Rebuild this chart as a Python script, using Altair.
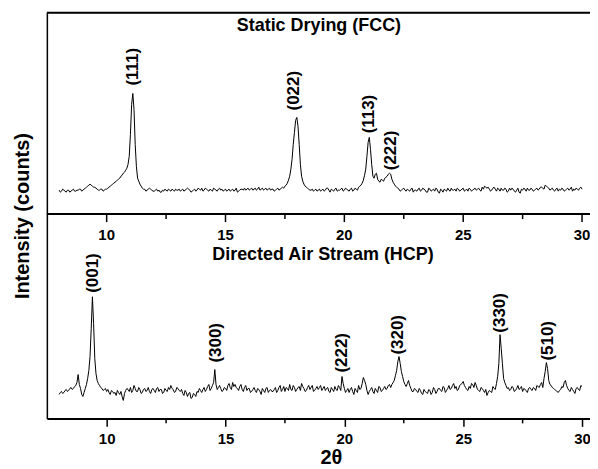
import altair as alt
import pandas as pd

# ---------------- data ----------------
X_START = 8.0
X_STEP = 0.1
MID_START = 8.05   # second set of readings, half-way between the first

# Static Drying (FCC) — intensity above its own baseline axis, 8.0 .. 30.0 step 0.1
TOP_BASE = [
    24, 23, 24, 22, 24, 23, 25, 23, 24, 25,
    24, 26, 28, 30, 28, 27, 25, 24, 25, 24,
    25, 27, 29, 31, 33, 35, 38, 41, 44, 50,
    80, 121, 70, 36, 30, 26, 25, 24, 26, 24,
    23, 25, 24, 22, 23, 24, 25, 23, 24, 25,
    24, 23, 25, 24, 26, 24, 23, 25, 24, 25,
    26, 24, 25, 23, 24, 26, 24, 25, 24, 23,
    25, 24, 23, 25, 24, 22, 24, 25, 26, 25,
    24, 26, 25, 24, 27, 25, 24, 26, 25, 24,
    25, 24, 26, 25, 27, 28, 31, 38, 55, 82,
    97, 70, 38, 30, 27, 25, 24, 23, 25, 24,
    23, 25, 24, 26, 22, 24, 25, 23, 24, 26,
    24, 25, 23, 26, 24, 25, 27, 29, 34, 45,
    72, 65, 38, 40, 35, 32, 34, 36, 38, 41,
    35, 30, 27, 25, 24, 26, 23, 24, 25, 22,
    24, 25, 23, 26, 24, 22, 25, 24, 23, 25,
    21, 24, 25, 23, 24, 26, 24, 23, 25, 24,
    26, 24, 23, 25, 24, 26, 25, 24, 27, 28,
    26, 25, 24, 27, 23, 25, 26, 24, 25, 23,
    24, 25, 22, 26, 21, 24, 25, 26, 24, 25,
    24, 26, 25, 27, 25, 28, 26, 25, 24, 25,
    23, 24, 25, 24, 26, 25, 23, 24, 25, 26,
    25,
]
# 8.05 .. 29.95 step 0.1
TOP_MID = [
    22, 25, 23, 24, 22, 24, 23, 24, 25, 23,
    25, 27, 29, 29, 27, 26, 24, 25, 23, 25,
    26, 28, 30, 32, 34, 36, 39, 42, 46, 58,
    110, 105, 48, 33, 28, 25, 23, 25, 25, 23,
    24, 23, 22, 24, 25, 23, 24, 25, 23, 24,
    25, 24, 23, 25, 25, 22, 24, 23, 26, 24,
    23, 26, 24, 25, 23, 25, 23, 26, 25, 24,
    23, 25, 24, 23, 26, 23, 25, 24, 24, 26,
    25, 24, 26, 25, 24, 26, 25, 24, 26, 25,
    23, 25, 24, 26, 26, 29, 34, 45, 70, 94,
    88, 50, 33, 28, 26, 24, 25, 24, 23, 25,
    24, 23, 26, 24, 25, 23, 26, 24, 25, 23,
    26, 24, 25, 23, 26, 24, 28, 31, 39, 58,
    77, 50, 36, 41, 33, 35, 33, 37, 40, 40,
    32, 28, 26, 23, 25, 24, 25, 23, 26, 24,
    23, 26, 24, 25, 22, 26, 23, 25, 26, 22,
    25, 22, 24, 26, 23, 24, 25, 26, 23, 25,
    23, 25, 26, 23, 25, 24, 26, 23, 25, 27,
    27, 23, 26, 25, 26, 23, 24, 26, 22, 26,
    26, 23, 24, 22, 25, 26, 23, 24, 26, 23,
    25, 24, 27, 26, 29, 27, 24, 26, 23, 26,
    25, 26, 23, 25, 24, 27, 25, 26, 24, 27,
]

# Directed Air Stream (HCP)
BOT_BASE = [
    24, 27, 26, 29, 28, 31, 30, 33, 44, 30,
    22, 30, 40, 62, 122, 60, 38, 33, 30, 29,
    27, 26, 28, 25, 23, 26, 27, 18, 28, 29,
    31, 28, 30, 27, 29, 26, 30, 28, 27, 29,
    28, 30, 27, 29, 26, 28, 31, 33, 29, 27,
    30, 27, 25, 28, 22, 26, 21, 24, 27, 30,
    26, 31, 29, 34, 30, 36, 34, 31, 30, 28,
    30, 33, 31, 36, 34, 30, 32, 29, 31, 28,
    30, 27, 31, 26, 29, 24, 28, 30, 26, 29,
    27, 31, 28, 33, 29, 27, 30, 34, 28, 31,
    29, 32, 35, 30, 28, 33, 31, 27, 30, 29,
    33, 30, 28, 31, 26, 29, 32, 28, 31, 42,
    30, 28, 26, 31, 24, 28, 33, 30, 41, 34,
    24, 29, 27, 30, 26, 31, 28, 32, 30, 34,
    34, 38, 48, 62, 47, 37, 32, 38, 30, 27,
    29, 26, 28, 24, 27, 25, 28, 26, 29, 27,
    30, 27, 31, 28, 33, 30, 35, 32, 29, 34,
    37, 31, 28, 30, 34, 36, 29, 27, 30, 26,
    23, 28, 26, 30, 35, 55, 70, 40, 33, 31,
    29, 31, 28, 33, 30, 27, 29, 26, 31, 28,
    30, 33, 31, 36, 40, 56, 38, 33, 30, 28,
    26, 29, 31, 38, 30, 27, 29, 25, 31, 28,
    32,
]
BOT_MID = [
    26, 25, 28, 27, 30, 29, 32, 36, 34, 24,
    26, 34, 48, 90, 95, 45, 35, 31, 28, 30,
    29, 24, 27, 26, 28, 24, 22, 25, 30, 27,
    26, 33, 27, 31, 25, 29, 27, 31, 25, 30,
    26, 31, 29, 25, 30, 27, 29, 30, 26, 31,
    28, 29, 23, 26, 25, 20, 25, 22, 26, 28,
    29, 27, 32, 28, 33, 49, 29, 33, 27, 31,
    28, 35, 29, 32, 31, 28, 34, 27, 33, 30,
    26, 29, 28, 30, 27, 30, 26, 31, 28, 27,
    29, 26, 31, 27, 32, 31, 28, 29, 33, 27,
    31, 28, 32, 27, 31, 29, 33, 28, 32, 31,
    28, 32, 30, 27, 31, 27, 29, 33, 28, 35,
    26, 30, 29, 27, 30, 26, 29, 35, 38, 28,
    27, 31, 25, 28, 32, 27, 30, 29, 33, 31,
    36, 43, 57, 55, 42, 34, 35, 33, 27, 30,
    27, 30, 25, 29, 26, 29, 24, 31, 25, 30,
    28, 32, 26, 30, 29, 33, 30, 28, 33, 35,
    33, 29, 32, 35, 31, 33, 28, 31, 28, 29,
    26, 27, 32, 29, 42, 84, 55, 36, 30, 28,
    32, 27, 30, 29, 32, 30, 28, 30, 29, 31,
    28, 32, 34, 31, 47, 50, 34, 31, 29, 27,
    28, 32, 36, 33, 28, 31, 27, 30, 29, 33,
]

TOP_LABELS = ["(111)", "(022)", "(113)", "(222)"]
TOP_LABEL_X = [11.09, 17.87, 21.03, 21.95]
TOP_LABEL_Y = [127, 102, 79, 42]

BOT_LABELS = ["(001)", "(300)", "(222)", "(320)", "(330)", "(510)"]
BOT_LABEL_X = [9.41, 14.61, 19.9, 22.24, 26.56, 28.57]
BOT_LABEL_Y = [124, 54, 44, 62, 84, 56]

PANEL_TITLES = ["Static Drying (FCC)", "Directed Air Stream (HCP)"]
PANEL_TITLE_X = [18.93, 19.1]
PANEL_TITLE_Y = [189, 164]   # top title relative to top panel, bottom title to bottom panel

MAJOR_TICKS = [10, 15, 20, 25, 30]
MINOR_TICKS = [12.5, 17.5, 22.5, 27.5]

PANEL_OFFSET = 205   # height of the lower panel in intensity units
Y_MAX = 407

# ---------------- layout ----------------
W = 545
H = 407
FONT = "Liberation Sans"


def trace(base, mid, offset):
    xs = [round(X_START + i * X_STEP, 3) for i in range(len(base))]
    xs += [round(MID_START + i * X_STEP, 3) for i in range(len(mid))]
    ys = list(base) + list(mid)
    df = pd.DataFrame({"x": xs, "y": [v + offset for v in ys]})
    return df.sort_values("x").reset_index(drop=True)


df_top = trace(TOP_BASE, TOP_MID, PANEL_OFFSET)
df_bot = trace(BOT_BASE, BOT_MID, 0)

df_labels = pd.DataFrame({
    "x": TOP_LABEL_X + BOT_LABEL_X,
    "y": [v + PANEL_OFFSET for v in TOP_LABEL_Y] + BOT_LABEL_Y,
    "text": TOP_LABELS + BOT_LABELS,
})
df_titles = pd.DataFrame({
    "x": PANEL_TITLE_X,
    "y": [PANEL_TITLE_Y[0] + PANEL_OFFSET, PANEL_TITLE_Y[1]],
    "text": PANEL_TITLES,
})
df_major = pd.DataFrame({"x": MAJOR_TICKS, "label": [str(t) for t in MAJOR_TICKS]})
df_minor = pd.DataFrame({"x": MINOR_TICKS})
df_mid = pd.DataFrame({"y": [PANEL_OFFSET]})

xscale = alt.Scale(domain=[7.484, 30.335], nice=False, zero=False)
yscale = alt.Scale(domain=[0, Y_MAX], nice=False, zero=True)

xaxis = alt.Axis(
    values=MAJOR_TICKS, grid=False, tickSize=8, tickWidth=1.5, tickColor="black",
    domainColor="black", domainWidth=2, labelFontSize=15, labelFontWeight="bold",
    labelColor="black", labelFont=FONT, labelPadding=5, labelFlush=False,
    title="2θ", titleFontSize=20, titleFontWeight="bold", titleFont=FONT,
    titleColor="black", titlePadding=1, titleX=285, format="d",
)
yaxis = alt.Axis(
    ticks=False, labels=False, grid=False, domainColor="black", domainWidth=1.5,
    title="Intensity (counts)", titleFontSize=20, titleFontWeight="bold",
    titleFont=FONT, titleColor="black", titlePadding=14,
)

X = alt.X("x:Q", scale=xscale, axis=xaxis)
Y = alt.Y("y:Q", scale=yscale, axis=yaxis)

line_top = alt.Chart(df_top).mark_line(color="black", strokeWidth=1).encode(x=X, y=Y)
line_bot = alt.Chart(df_bot).mark_line(color="black", strokeWidth=1).encode(x=X, y=Y)

labels = alt.Chart(df_labels).mark_text(
    angle=270, align="left", baseline="middle", fontSize=17, fontWeight="bold",
    font=FONT, color="black", yOffset=-2,
).encode(x=X, y=Y, text="text:N")

titles = alt.Chart(df_titles).mark_text(
    align="center", baseline="middle", fontSize=18, fontWeight="bold", font=FONT, color="black",
).encode(x=X, y=Y, text="text:N")

mid_px = H - PANEL_OFFSET
mid_rule = alt.Chart(df_mid).mark_rule(color="black", strokeWidth=2).encode(
    y=Y, x=alt.value(0), x2=alt.value(W)
)
mid_major = alt.Chart(df_major).mark_rule(color="black", strokeWidth=1.5).encode(
    x=X, y=alt.value(mid_px), y2=alt.value(mid_px + 8)
)
mid_minor = alt.Chart(df_minor).mark_rule(color="black", strokeWidth=1.5).encode(
    x=X, y=alt.value(mid_px), y2=alt.value(mid_px + 5)
)
mid_text = alt.Chart(df_major).mark_text(
    fontSize=15, fontWeight="bold", font=FONT, color="black", baseline="middle",
).encode(x=X, y=alt.value(mid_px + 21), text="label:N")
bot_minor = alt.Chart(df_minor).mark_rule(color="black", strokeWidth=1.5).encode(
    x=X, y=alt.value(H), y2=alt.value(H + 5)
)
top_border = alt.Chart(df_mid).mark_rule(color="black", strokeWidth=2).encode(
    x=alt.value(0), x2=alt.value(W), y=alt.value(0)
)

chart = alt.layer(
    line_top, line_bot, labels, titles, mid_rule, mid_major, mid_minor, mid_text,
    bot_minor, top_border,
).properties(
    width=W, height=H,
    autosize=alt.AutoSizeParams(type="none"),
    padding={"left": 39, "top": 4, "right": 0, "bottom": 49},
    background="white",
).configure_view(strokeWidth=0).configure(font=FONT)

chart.save("out.html", embed_options={"renderer": "svg", "actions": False})
